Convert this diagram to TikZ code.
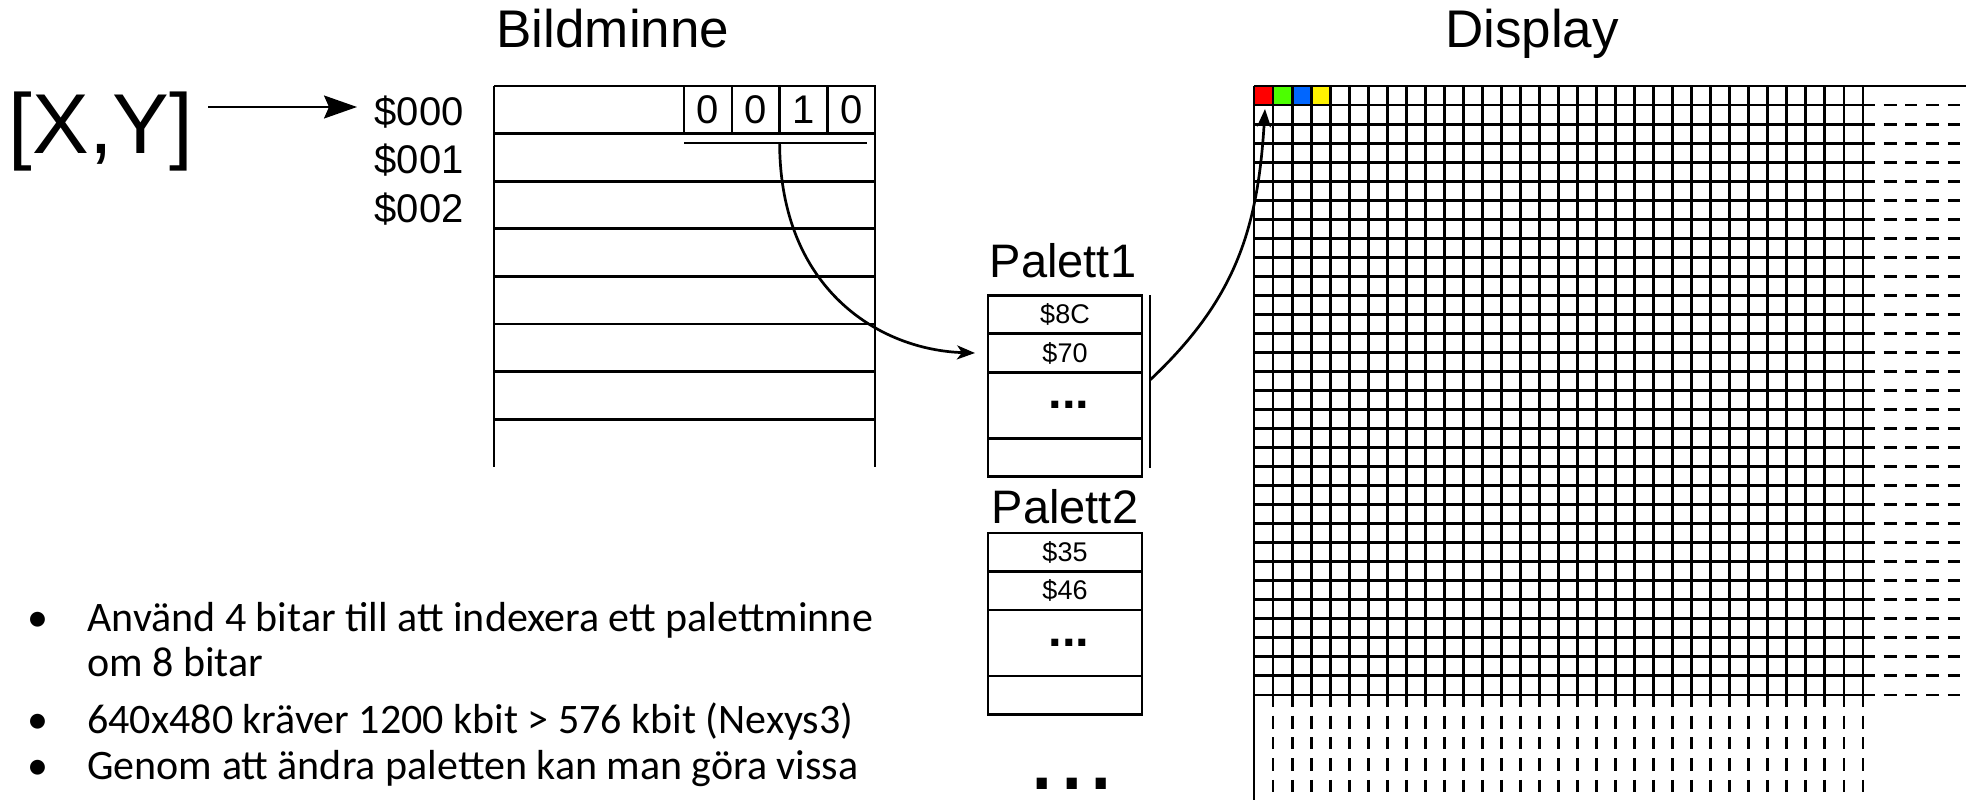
\documentclass[tikz,border=0pt]{standalone}
\usepackage{fontspec}
\setmainfont{Liberation Sans}
\newfontfamily\notefont{Carlito}
\usetikzlibrary{arrows.meta, positioning}

\begin{document}
\begin{tikzpicture}[
    x=1pt, y=-1pt,
    line width=2.7pt,
    >={Stealth[length=18pt, width=14pt, inset=5pt]},
    title/.style={anchor=base, inner sep=0pt, font=\fontsize{53}{53}\selectfont},
    palname/.style={anchor=base, inner sep=0pt, font=\fontsize{47}{47}\selectfont},
    addr/.style={anchor=base east, inner sep=0pt, font=\fontsize{40}{40}\selectfont},
    bit/.style={draw, minimum size=47.75pt, inner sep=0pt, outer sep=0pt,
        font=\fontsize{40}{40}\selectfont},
    cell/.style={draw, minimum width=154pt, minimum height=38.5pt,
        inner sep=0pt, outer sep=0pt, font=\fontsize{27}{27}\selectfont},
    dotcell/.style={cell, minimum height=66pt},
    dots/.style={anchor=base, inner sep=0pt, font=\bfseries\fontsize{49}{49}\selectfont},
    note/.style={anchor=base west, inner sep=0pt, font=\notefont\fontsize{42}{42}\selectfont},
    gridline/.style={line width=2.9pt},
    tail/.style={line width=2.9pt, dash pattern=on 12pt off 8.7pt on 13pt off 8.7pt},
]
    \useasboundingbox (0,0) rectangle (1973,800);
    \def\cs{19.03}

    % titles
    \node[title] (bild) at (613,48)  {Bildminne};
    \node[title] (disp) at (1532,48) {Display};

    % address input
    \node[anchor=base, inner sep=0pt, font=\fontsize{85}{85}\selectfont] (xy) at (101,153) {[X,Y]};
    \node[addr] (a000) at (465,125) {\$000};
    \node[addr] (a001) at (465,173) {\$001};
    \node[addr] (a002) at (465,222) {\$002};
    \coordinate (xyout) at (208,107);
    \coordinate (memin) at (357,107);
    \draw[-{Stealth[length=33pt, width=23pt, inset=5pt]}, line width=2pt] (xyout) -- (memin);

    % Bildminne
    \draw (494,86) -- (494,467);
    \draw (875,86) -- (875,467);
    \foreach \k in {0,...,7}
        \draw (494,{86+\k*47.6}) -- (875,{86+\k*47.6});

    \node[bit]                  (b3) at (708,110) {0};
    \node[bit, right=0pt of b3] (b2) {0};
    \node[bit, right=0pt of b2] (b1) {1};
    \node[bit, right=0pt of b1] (b0) {0};
    \draw ([yshift=-9pt]b3.south west) -- ([yshift=-9pt, xshift=-8pt]b0.south east);
    \coordinate (tap) at ([yshift=-9pt]b2.south east);

    % Palett1
    \node[palname] (pal1) at (1063,277) {Palett1};
    \node[cell]                      (p1a) at (1065,314.5) {\$8C};
    \node[cell, below=0pt of p1a]    (p1b) {\$70};
    \node[dotcell, below=0pt of p1b] (p1c) {};
    \node[cell, below=0pt of p1c]    (p1d) {};
    \node[dots] (p1dots) at (1069,408) {...};
    \draw ([xshift=8pt]p1a.north east) -- ([xshift=8pt, yshift=9pt]p1d.south east);
    \coordinate (p1out) at (1150,380);

    % Palett2
    \node[palname] (pal2) at (1065,523) {Palett2};
    \node[cell]                      (p2a) at (1065,552.25) {\$35};
    \node[cell, below=0pt of p2a]    (p2b) {\$46};
    \node[dotcell, below=0pt of p2b] (p2c) {};
    \node[cell, below=0pt of p2c]    (p2d) {};
    \node[dots] (p2dots) at (1069,646) {...};

    \node[dots, font=\fontsize{106}{106}\selectfont] (more) at (1072,789) {...};

    % Display
    \fill[red]           (1254,86) rectangle ++(\cs,\cs);
    \fill[green!60!lime] ({1254+\cs},86) rectangle ++(\cs,\cs);
    \fill[blue!60!cyan]  ({1254+2*\cs},86) rectangle ++(\cs,\cs);
    \fill[yellow]        ({1254+3*\cs},86) rectangle ++(\cs,\cs);
    \foreach \k in {0,...,32} {
        \draw[gridline] (1254,{86+\k*\cs}) -- (1863,{86+\k*\cs});
        \draw[gridline] ({1254+\k*\cs},86) -- ({1254+\k*\cs},695);
    }
    \foreach \k in {1,...,32} {
        \draw[tail] (1863,{86+\k*\cs}) -- (1963,{86+\k*\cs});
        \draw[tail] ({1254+\k*\cs},695) -- ({1254+\k*\cs},800);
    }
    \draw[gridline] (1863,86) -- (1966,86);
    \draw[gridline] (1254,695) -- (1254,800);
    \coordinate (pix) at (1265,109);

    % connections
    \draw[->] (tap) .. controls (780,290) and (880,350) .. ([xshift=-13pt]p1b.west);
    \draw[->] (p1out) .. controls (1235,300) and (1258,230) .. (pix);

    % notes
    \foreach \y in {631,733,779}
        \node[note, anchor=base] at (38,\y) {•};
    \node[note] (n1)  at (86,631) {Använd 4 bitar till att indexera ett palettminne};
    \node[note] (n1b) at (86,676) {om 8 bitar};
    \node[note] (n2)  at (86,733) {640x480 kräver 1200 kbit > 576 kbit (Nexys3)};
    \node[note] (n3)  at (86,779) {Genom att ändra paletten kan man göra vissa};
\end{tikzpicture}
\end{document}
